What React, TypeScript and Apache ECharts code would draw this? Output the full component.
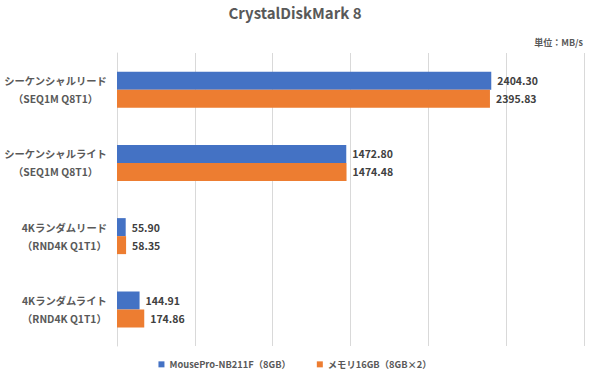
import React, { useEffect, useRef } from "react";
import * as echarts from "echarts";

const categoryNames = ["シーケンシャルリード", "シーケンシャルライト", "4Kランダムリード", "4Kランダムライト"];
const categorySubs = ["（SEQ1M Q8T1）", "（SEQ1M Q8T1）", "（RND4K Q1T1）", "（RND4K Q1T1）"];
const seriesNames = ["MousePro-NB211F（8GB）", "メモリ16GB（8GB×2）"];
const seriesA = [2404.3, 1472.8, 55.9, 144.91];
const seriesB = [2395.83, 1474.48, 58.35, 174.86];

const FONT = "'Noto Sans CJK JP', 'Noto Sans', sans-serif";

export default function App() {
  const ref = useRef<HTMLDivElement>(null);
  useEffect(() => {
    if (!ref.current) return;
    const chart = echarts.init(ref.current, undefined, { renderer: "svg" });
    const labelStyle = {
      show: true,
      position: "right" as const,
      distance: 6,
      fontSize: 10.5,
      fontWeight: "bold" as const,
      color: "#404040",
      fontFamily: FONT,
      formatter: (p: any) => Number(p.value).toFixed(2),
    };
    chart.setOption({
      animation: false,
      textStyle: { fontFamily: FONT },
      title: {
        text: "CrystalDiskMark 8",
        left: "center",
        top: 0,
        textStyle: { fontSize: 15, fontWeight: "bold", color: "#595959", fontFamily: FONT },
      },
      graphic: [
        {
          type: "text",
          right: 7,
          top: 38,
          style: { text: "単位：MB/s", fontSize: 9, fill: "#595959", fontFamily: FONT, fontWeight: "bold" },
        },
      ],
      legend: {
        bottom: 1,
        left: "center",
        icon: "rect",
        itemWidth: 6,
        itemHeight: 6,
        itemGap: 26,
        textStyle: { fontSize: 9.3, color: "#595959", fontWeight: "bold", fontFamily: FONT },
        data: seriesNames,
      },
      grid: { left: 117, right: 6, top: 53, bottom: 29, containLabel: false, outerBoundsMode: "none" },
      xAxis: {
        type: "value",
        min: 0,
        max: 3000,
        interval: 500,
        axisLabel: { show: false },
        axisLine: { show: false },
        axisTick: { show: false },
        splitLine: { show: true, lineStyle: { color: "#d9d9d9", width: 1 } },
      },
      yAxis: {
        type: "category",
        inverse: true,
        data: categoryNames,
        axisLine: { show: true, lineStyle: { color: "#d9d9d9", width: 1 } },
        axisTick: { show: false },
        axisLabel: {
          margin: 10,
          align: "right",
          formatter: (v: string, i: number) => `{a|${categoryNames[i]}}\n{a|${categorySubs[i]}}`,
          rich: {
            a: {
              align: "center",
              fontSize: 10.3,
              fontWeight: "bold",
              color: "#595959",
              lineHeight: 18,
              fontFamily: FONT,
            },
          },
        },
      },
      series: [
        {
          name: seriesNames[0],
          type: "bar",
          data: seriesA,
          barWidth: 18,
          barGap: "0%",
          itemStyle: { color: "#4472C4" },
          label: labelStyle,
        },
        {
          name: seriesNames[1],
          type: "bar",
          data: seriesB,
          barWidth: 18,
          barGap: "0%",
          itemStyle: { color: "#ED7D31" },
          label: labelStyle,
        },
      ],
    });
    return () => chart.dispose();
  }, []);
  return (
    <div
      ref={ref}
      style={{ position: "fixed", left: 0, top: 0, width: 590, height: 375, background: "#fff" }}
    />
  );
}
